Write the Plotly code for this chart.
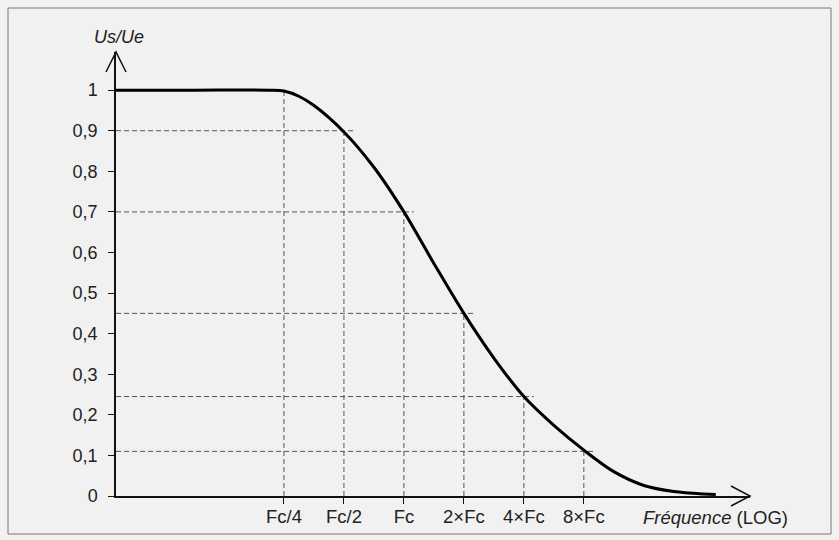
import plotly.graph_objects as go

# ---- data (frequency as ratio f/Fc, gain Us/Ue) ----
curve_f = [0.0359, 0.0884, 0.210, 0.25, 0.297, 0.354, 0.5, 0.707, 1.0, 1.414, 2.0,
           2.828, 4.0, 5.657, 8.0, 11.31, 16.0, 22.63, 32.0, 36.76]
curve_g = [1.0, 1.0, 1.0, 0.998, 0.985, 0.962, 0.897, 0.81, 0.70, 0.573, 0.45,
           0.34, 0.245, 0.174, 0.113, 0.06, 0.026, 0.011, 0.005, 0.004]

ref_f = [0.25, 0.5, 1, 2, 4, 8]
ref_g = [1.0, 0.9, 0.7, 0.45, 0.245, 0.11]
x_tick_labels = ["Fc/4", "Fc/2", "Fc", "2×Fc", "4×Fc", "8×Fc"]

y_tick_vals = [0, 0.1, 0.2, 0.3, 0.4, 0.5, 0.6, 0.7, 0.8, 0.9, 1]
y_tick_labels = ["0", "0,1", "0,2", "0,3", "0,4", "0,5", "0,6", "0,7", "0,8", "0,9", "1"]

X_MIN = 0.0359
Y_MAX = 1.094

# ---- layout geometry (pixels) ----
W, H = 839, 540
L, R, T, B = 116, 750, 52, 496


def px(x):
    return (x - L) / (R - L)


def py(y):
    return (B - y) / (B - T)


fig = go.Figure()

dash_style = dict(color="#555555", width=1, dash="5px,3px")

# vertical reference lines
for f, g in zip(ref_f, ref_g):
    fig.add_trace(go.Scatter(x=[f, f], y=[0, g], mode="lines", line=dash_style,
                             hoverinfo="skip", showlegend=False))
# horizontal reference lines (slightly overshooting the crossing)
for f, g in zip(ref_f[1:], ref_g[1:]):
    fig.add_trace(go.Scatter(x=[X_MIN, f * 1.12], y=[g, g], mode="lines", line=dash_style,
                             hoverinfo="skip", showlegend=False))

# response curve
fig.add_trace(go.Scatter(x=curve_f, y=curve_g, mode="lines",
                         line=dict(color="black", width=3, shape="spline", smoothing=0.9),
                         showlegend=False))

shapes = []
ax_line = dict(color="#111111", width=1.5)
# y-axis arrow chevron
shapes.append(dict(type="path", xref="paper", yref="paper",
                   path=f"M {px(106)} {py(72)} L {px(116)} {py(52)} L {px(126)} {py(72)}",
                   line=ax_line))
# x-axis arrow chevron
shapes.append(dict(type="path", xref="paper", yref="paper",
                   path=f"M {px(731)} {py(486)} L {px(750)} {py(496)} L {px(731)} {py(506)}",
                   line=ax_line))
# outer frame
shapes.append(dict(type="rect", xref="paper", yref="paper",
                   x0=px(8), x1=px(831), y0=py(534), y1=py(8),
                   line=dict(color="#777777", width=1)))

annotations = [
    dict(text="<i>Us/Ue</i>", xref="paper", yref="paper", x=px(119), y=py(37),
         showarrow=False, font=dict(size=18, color="#222222"), xanchor="center", yanchor="middle"),
    dict(text="<i>Fréquence</i> (LOG)", xref="paper", yref="paper", x=px(715), y=py(517),
         showarrow=False, font=dict(size=18.5, color="#222222"), xanchor="center", yanchor="middle"),
]

fig.update_layout(
    width=W, height=H,
    margin=dict(l=L, r=W - R, t=T, b=H - B),
    paper_bgcolor="#f1f1f1", plot_bgcolor="#f1f1f1",
    font=dict(family="Liberation Sans, Arial, sans-serif", size=17, color="#222222"),
    shapes=shapes, annotations=annotations,
    xaxis=dict(type="log", range=[-1.445, 1.737], tickvals=ref_f, ticktext=x_tick_labels,
               showgrid=False, zeroline=False, showline=True, linecolor="#111111", linewidth=1.5,
               ticks="outside", ticklen=6, tickcolor="#111111", tickwidth=1.2,
               tickfont=dict(size=18.5), ticklabelstandoff=-3),
    yaxis=dict(range=[0, Y_MAX], tickvals=y_tick_vals, ticktext=y_tick_labels,
               showgrid=False, zeroline=False, showline=True, linecolor="#111111", linewidth=1.5,
               ticks="outside", ticklen=6, tickcolor="#111111", tickwidth=1.2,
               tickfont=dict(size=18), ticklabelstandoff=7),
)

fig.write_html("out.html", config={"displayModeBar": False},
               post_script="document.body.style.margin='0';document.body.style.background='#f1f1f1';")
